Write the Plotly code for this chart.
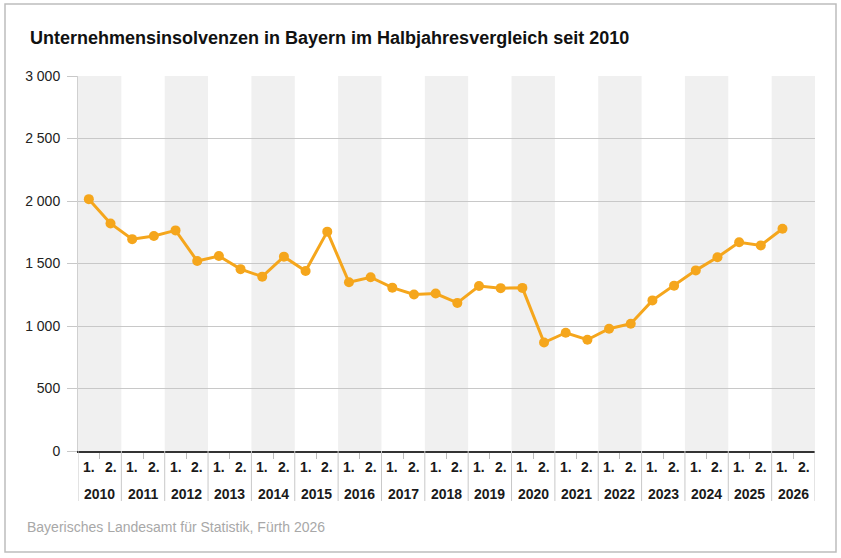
import plotly.graph_objects as go

# Halbjahreswerte, 2010 1. Hj. bis 2026 1. Hj.
years = list(range(2010, 2027))
halves = ["1.", "2."]
insolvenzen = [
    2015, 1820, 1695, 1720, 1765, 1520, 1560, 1455, 1395, 1555,
    1440, 1755, 1350, 1390, 1307, 1252, 1260, 1185, 1320, 1303,
    1305, 868, 946, 890, 978, 1018, 1205, 1323, 1445, 1550,
    1670, 1645, 1778,
]
y_ticks = [0, 500, 1000, 1500, 2000, 2500, 3000]

ORANGE = "#F5A61C"
BAND = "#F0F0F0"
GRID = "#C8C8C8"
TEXT = "#1a1a1a"
FONT = "Liberation Sans"

# plot area in pixels (used to place things outside it in paper units)
L, R, T, B = 78, 26, 76, 107
PW, PH = 841 - L - R, 558 - T - B
BOTTOM = T + PH


def px_x(px):
    return (px - L) / PW


def px_y(py):
    return (BOTTOM - py) / PH


# x position: each half-year is one unit, points sit in the middle of their slot
x_pos = [i + 0.5 for i in range(len(insolvenzen))]
n_slots = len(years) * 2

fig = go.Figure()

fig.add_trace(go.Scatter(
    x=x_pos,
    y=insolvenzen,
    mode="lines+markers",
    line=dict(color=ORANGE, width=3),
    marker=dict(color=ORANGE, size=10),
    hovertemplate="%{y:,}<extra></extra>",
))

shapes = []
annotations = []
for k, yr in enumerate(years):
    x0 = 2 * k
    # grey band for every second year
    if k % 2 == 0:
        shapes.append(dict(type="rect", xref="x", yref="paper",
                           x0=x0, x1=x0 + 2, y0=0, y1=1,
                           fillcolor=BAND, line_width=0, layer="below"))
    # half-year labels and year label
    for j, h in enumerate(halves):
        annotations.append(dict(x=x0 + j + 0.5, y=px_y(BOTTOM + 16),
                                xref="x", yref="paper",
                                text="<b>" + h + "</b>", showarrow=False,
                                yanchor="middle",
                                font=dict(family=FONT, size=14, color=TEXT)))
    annotations.append(dict(x=x0 + 1, y=px_y(BOTTOM + 43), xref="x", yref="paper",
                            text="<b>" + str(yr) + "</b>", showarrow=False,
                            yanchor="middle",
                            font=dict(family=FONT, size=14, color=TEXT)))

# year separators below the axis
for k in range(len(years) + 1):
    shapes.append(dict(type="line", xref="x", yref="paper",
                       x0=2 * k, x1=2 * k, y0=0, y1=px_y(BOTTOM + 50),
                       line=dict(color=GRID, width=1)))

# outer frame of the graphic
shapes.append(dict(type="rect", xref="paper", yref="paper",
                   x0=px_x(5), x1=px_x(836), y0=px_y(552), y1=px_y(4),
                   line=dict(color="#BDBDBD", width=1.5), layer="below"))

annotations.append(dict(x=px_x(25), y=px_y(527), xref="paper", yref="paper",
                        text="Bayerisches Landesamt für Statistik, Fürth 2026",
                        showarrow=False, xanchor="left", yanchor="middle",
                        font=dict(family=FONT, size=14, color="#A8A8A8")))

fig.update_layout(
    width=841, height=558,
    margin=dict(l=L, r=R, t=T, b=B),
    paper_bgcolor="white",
    plot_bgcolor="white",
    showlegend=False,
    separators=", ",
    font=dict(family=FONT, size=14, color=TEXT),
    title=dict(
        text="<b>Unternehmensinsolvenzen in Bayern im Halbjahresvergleich seit 2010</b>",
        x=30 / 841, xref="container", xanchor="left",
        y=1 - 38 / 558, yref="container", yanchor="middle",
        font=dict(family=FONT, size=18, color="#111111"),
    ),
    shapes=shapes,
    annotations=annotations,
    xaxis=dict(
        range=[0, n_slots],
        showgrid=False, zeroline=False,
        showline=True, linecolor="#333333", linewidth=2,
        tickvals=[2 * k + 1 for k in range(len(years))],
        ticktext=["" for _ in years],
        ticks="outside", ticklen=6, tickcolor="#BDBDBD",
        fixedrange=True,
    ),
    yaxis=dict(
        range=[0, 3000],
        tickvals=y_ticks,
        tickformat=",d",
        showgrid=True, gridcolor=GRID, gridwidth=1,
        zeroline=False, showline=True, linecolor="#D0D0D0", linewidth=1,
        ticks="outside", ticklen=10, tickcolor=GRID,
        ticklabelstandoff=4,
        tickfont=dict(family=FONT, size=14, color="#222222"),
        fixedrange=True,
    ),
)

# the page's default body margin would push the fixed-size figure off its frame
fig.write_html("out.html", config={"displayModeBar": False},
               post_script="document.body.style.margin = '0';")
